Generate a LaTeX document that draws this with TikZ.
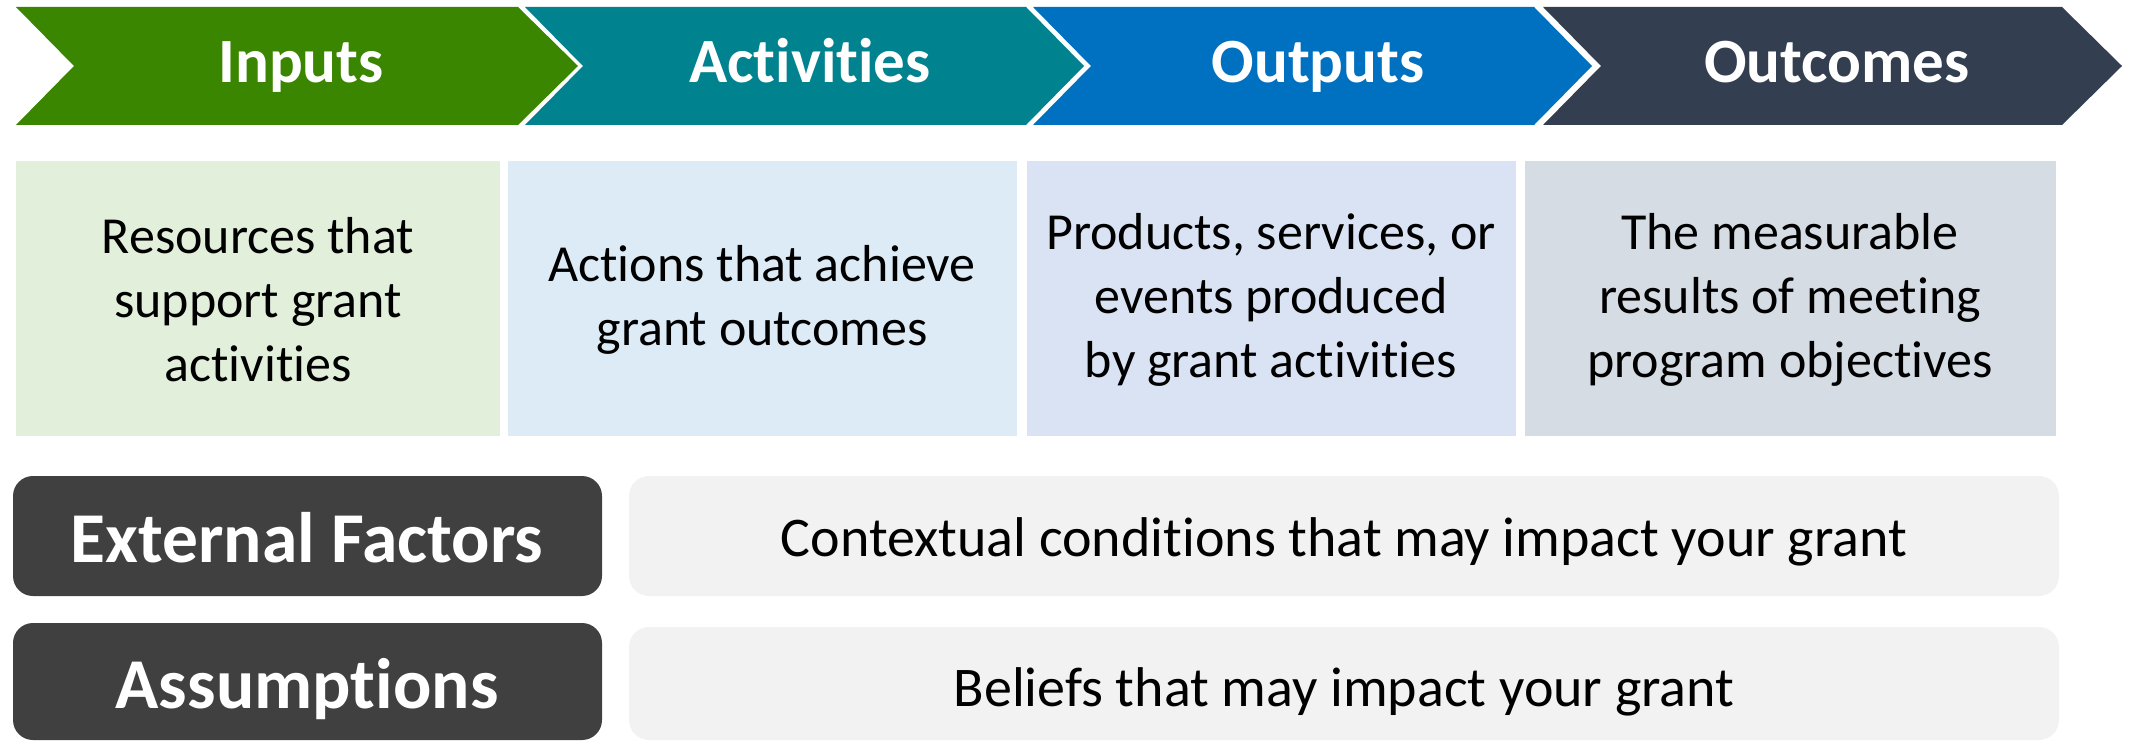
\documentclass[tikz,border=0pt]{standalone}
\usepackage{fontspec}
\setmainfont{Carlito}[Ligatures=NoCommon]
\newcommand{\nolig}{\kern0pt }
\definecolor{cgreen}{HTML}{3A8600}
\definecolor{cteal}{HTML}{00838F}
\definecolor{cblue}{HTML}{0070C0}
\definecolor{cslate}{HTML}{333F50}
\definecolor{bgreen}{HTML}{E2EFDA}
\definecolor{bteal}{HTML}{DDEBF7}
\definecolor{bblue}{HTML}{DAE3F3}
\definecolor{bslate}{HTML}{D6DCE4}
\definecolor{darkbox}{HTML}{404040}
\definecolor{lightbox}{HTML}{F2F2F2}
\tikzset{
  headtxt/.style={text=white, font=\fontsize{63}{70}\selectfont\bfseries, anchor=base, inner sep=0pt},
  bodytxt/.style={text=black, font=\fontsize{52}{64}\selectfont, align=center, inner sep=0pt},
  labtxt/.style={text=white, font=\fontsize{71.5}{80}\selectfont\bfseries, inner sep=0pt},
  desctxt/.style={text=black, font=\fontsize{56}{66}\selectfont, inner sep=0pt},
}
\begin{document}
\begin{tikzpicture}[x=1pt,y=-1pt]
\useasboundingbox (0,0) rectangle (2129,741);
% chevrons: left, top-right, tip
\fill[cgreen] (16,7) -- (518,7) -- (578,66) -- (518,125) -- (16,125) -- (74,66) -- cycle;
\fill[cteal] (525,7) -- (1026,7) -- (1084,66) -- (1026,125) -- (525,125) -- (583,66) -- cycle;
\fill[cblue] (1033,7) -- (1534,7) -- (1592,66) -- (1534,125) -- (1033,125) -- (1091,66) -- cycle;
\fill[cslate] (1543,7) -- (2062,7) -- (2122,66) -- (2062,125) -- (1543,125) -- (1601,66) -- cycle;
\node[headtxt] (hin) at (301,83) {Inputs};
\node[headtxt] (hact) at (810,83) {Activit\nolig ies};
\node[headtxt] (hout) at (1318,83) {Outputs};
\node[headtxt] (hoc) at (1837,83) {Outcomes};
% description boxes
\fill[bgreen] (16,161) rectangle (500,436);
\fill[bteal] (508,161) rectangle (1017,436);
\fill[bblue] (1027,161) rectangle (1516,436);
\fill[bslate] (1525,161) rectangle (2056,436);
\node[bodytxt] (bin) at (258,300) {Resources that\\support grant\\act\nolig ivit\nolig ies};
\node[bodytxt] (bact) at (762,300) {Act\nolig ions that achieve\\grant outcomes};
\node[bodytxt] (bout) at (1271,300) {Products, services, or\\events produced\\by grant act\nolig ivit\nolig ies};
\node[bodytxt] (boc) at (1790,300) {The measurable\\results of meeting\\program object\nolig ives};
% bottom rows
\fill[darkbox, rounded corners=20pt] (13,476) rectangle (602,596);
\fill[darkbox, rounded corners=20pt] (13,623) rectangle (602,740);
\fill[lightbox, rounded corners=20pt] (629,476) rectangle (2059,596);
\fill[lightbox, rounded corners=20pt] (629,627) rectangle (2059,740);
\node[labtxt] (lext) at (307,538) {External Factors};
\node[labtxt] (lass) at (307,689) {Assumpt\nolig ions};
\node[desctxt] (dext) at (1344,542) {Contextual condit\nolig ions that may impact your grant};
\node[desctxt] (dass) at (1344,692) {Beliefs that may impact your grant};
\end{tikzpicture}
\end{document}
